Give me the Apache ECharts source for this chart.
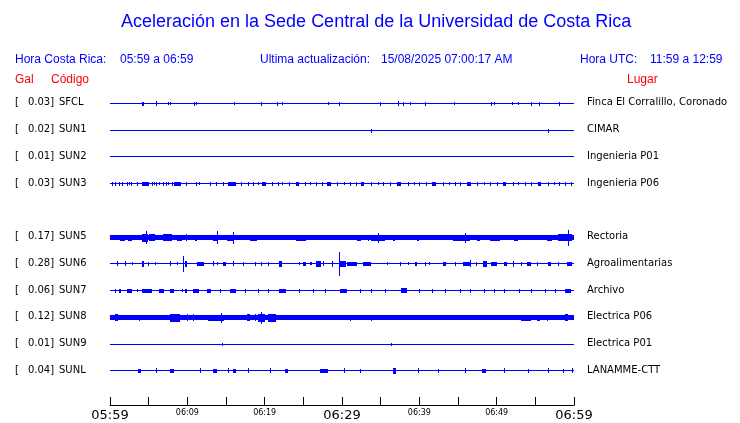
<!DOCTYPE html>
<html><head><meta charset="utf-8">
<script src="https://cdn.jsdelivr.net/npm/echarts@6/dist/echarts.min.js"></script>
<style>html,body{margin:0;padding:0;background:#fff}#c{width:740px;height:423px}</style>
</head><body><div id="c"></div>
<script>
// ---- data ----
const codes  = ['SFCL','SUN1','SUN2','SUN3','SUN5','SUN6','SUN7','SUN8','SUN9','SUNL'];
const gal    = ['0.03','0.02','0.01','0.03','0.17','0.28','0.06','0.12','0.01','0.04'];
const places = ['Finca El Corralillo, Coronado','CIMAR','Ingenieria P01','Ingenieria P06','Rectoria','Agroalimentarias','Archivo','Electrica P06','Electrica P01','LANAMME-CTT'];
const slots  = [1,2,3,4,6,7,8,9,10,11];           // row of each station (row 5 empty)
const noise  = [0,0,0,0,2,0,0,2,0,0];              // continuous background level
const tickMinutes = [0,5,10,15,20,25,30,35,40,45,50,55,60];
const startTime = [5,59];
// bursts: [start minute, end minute, half amplitude]
const sfcl = [[4.2,4.4,1.5],[5.9,6.1,2],[7.5,7.5,1],[7.7,7.7,1],[10.8,10.9,1.5],[11.1,11.1,1],[16.0,16.0,1],[19.5,19.7,1.5],[21.6,21.6,1.5],[22.2,22.2,1],[28.2,28.2,1],[29.6,29.6,1.5],[34.9,35.1,1.5],[37.2,37.3,2],[37.9,37.9,1.5],[38.8,38.8,1],[40.7,40.7,1.5],[44.5,44.5,1],[49.3,49.3,1.5],[49.7,49.7,1],[52.0,52.0,1],[52.8,52.8,1],[54.5,54.5,1.5],[55.5,55.5,1.5],[58.1,58.1,1.5]];
const sun1 = [[33.8,33.8,1.5],[56.7,56.8,1.5]];
const sun2 = [];
const sun3 = [[0.2,0.2,1.5],[0.6,0.6,1.5],[1.1,1.1,1.5],[1.6,1.6,1.5],[2.2,2.2,1.5],[2.4,2.4,1],[2.7,2.7,1.5],[3.5,3.5,1.5],[4.2,5.0,1.5],[5.4,5.4,1.5],[5.7,5.7,1],[6.0,6.0,1.5],[6.3,6.3,1],[6.8,6.8,1.5],[7.2,7.2,1.5],[7.5,7.5,1],[8.0,8.0,1.5],[8.3,9.2,1.5],[9.8,9.8,1.5],[11.1,11.1,1.5],[11.5,11.5,1],[12.9,12.9,1.5],[13.7,13.9,1.5],[14.6,14.6,1.5],[15.3,16.3,1.5],[17.0,17.0,1.5],[17.8,17.8,1.5],[18.5,18.5,1.5],[19.1,19.1,1],[19.6,20.2,1.5],[20.9,20.9,1.5],[21.7,21.7,1.5],[22.3,22.3,1],[23.2,23.2,1.5],[24.0,24.4,1.5],[25.2,25.2,1.5],[25.9,25.9,1],[26.6,26.6,1.5],[27.4,27.4,1.5],[28.1,28.6,1.5],[29.4,29.4,1.5],[30.3,30.3,1],[31.0,31.0,1.5],[31.8,31.8,1.5],[32.5,32.9,1.5],[33.7,33.7,1.5],[34.6,34.6,1],[35.3,35.3,1.5],[36.2,36.2,1.5],[37.1,37.6,1.5],[38.5,38.5,1.5],[39.3,39.3,1],[40.0,40.0,1.5],[40.8,40.8,1.5],[41.6,42.1,1.5],[43.0,43.0,1.5],[43.8,43.8,1],[44.6,44.6,1.5],[45.3,45.3,1.5],[46.2,46.7,1.5],[47.5,47.5,1.5],[48.3,48.3,1],[49.1,49.1,1.5],[50.0,50.0,1.5],[50.8,51.2,1.5],[52.1,52.1,1.5],[52.8,52.8,1],[53.6,53.6,1.5],[54.4,54.4,1.5],[55.3,55.7,1.5],[56.6,56.6,1.5],[57.4,57.4,1],[58.1,58.1,1.5],[58.9,58.9,1.5],[59.6,59.6,1.5]];
const sun5 = [[1.3,1.9,2.5],[2.3,2.8,2.5],[4.1,4.9,3.5],[4.6,4.6,6],[5.1,5.8,3],[6.8,8.0,3],[8.6,9.3,2.5],[9.8,10.0,3],[11.0,11.3,2.5],[13.3,13.9,2.5],[13.8,13.8,6],[15.1,15.9,2.5],[15.9,15.9,5.5],[18.1,19.0,2.5],[21.5,23.5,2],[24.1,25.4,2.5],[30.6,31.0,2],[31.9,32.5,2.5],[33.3,33.3,2.5],[33.8,35.5,2.5],[34.7,34.7,4.5],[36.6,36.8,2.5],[39.7,40.0,2.5],[41.3,43.5,2],[44.3,46.5,2.5],[45.9,45.9,4.5],[47.4,47.8,2.5],[49.1,50.4,2.5],[52.3,52.7,2.5],[55.2,55.6,2],[56.5,57.2,2.5],[57.9,59.8,3],[59.2,59.2,7.5]];
const sun6 = [[0.9,0.9,2],[2.0,2.1,2],[2.9,2.9,1],[4.2,4.4,2.5],[4.9,5.0,1.5],[5.8,5.8,1],[7.7,7.7,2],[8.6,8.6,1],[9.4,9.4,7.5],[9.7,9.9,2.5],[11.2,12.1,1.5],[13.3,13.3,2],[13.8,13.9,1],[14.6,15.0,1.5],[15.9,15.9,2],[17.2,17.2,1.5],[18.7,18.7,1.5],[19.5,19.5,1.5],[20.4,20.4,1.5],[21.9,22.2,2.5],[24.5,24.5,1],[24.9,25.3,1.5],[25.8,26.1,1],[26.7,27.3,2.5],[27.5,27.5,2],[28.7,28.7,2.5],[29.6,29.6,11.5],[29.8,30.5,2.5],[30.6,32.0,1.5],[32.7,33.8,1.5],[35.8,35.8,1],[37.5,37.5,1.5],[38.5,38.5,1],[39.4,39.7,1.5],[40.7,40.7,1.5],[41.3,41.3,1],[43.0,43.4,1.5],[44.6,44.7,1.5],[45.6,46.7,1.5],[46.5,46.5,3],[47.3,47.4,1.5],[48.2,48.7,2.5],[49.3,50.0,1.5],[51.0,51.3,1.5],[52.1,52.2,2.5],[53.2,53.3,1.5],[53.9,54.5,1.5],[55.2,55.2,1.5],[56.6,57.0,1.5],[57.9,58.0,1.5],[59.1,59.8,1.5]];
const sun7 = [[0.6,0.6,1.5],[1.1,1.4,1.5],[2.2,2.8,1.5],[3.5,3.5,1],[4.2,5.4,1.5],[6.4,7.0,1.5],[7.7,8.3,1.5],[9.3,9.3,1],[9.7,9.9,1.5],[10.7,11.5,1.5],[12.5,13.0,1.5],[14.2,14.2,1.5],[15.5,16.3,1.5],[17.4,17.4,1.5],[19.1,19.1,1.5],[20.4,20.4,1.5],[21.9,22.8,1.5],[24.5,24.5,1.5],[26.2,26.2,1.5],[27.8,27.8,1.5],[29.7,30.6,1.5],[32.3,32.3,1.5],[33.8,33.8,1.5],[35.5,35.5,1.5],[37.6,38.4,2],[40.0,40.0,1.5],[41.7,41.7,1.5],[43.3,43.3,1.5],[45.2,45.2,1.5],[46.5,46.5,1.5],[48.4,48.4,1.5],[49.7,49.7,1.5],[51.0,51.0,1.5],[52.9,52.9,1.5],[54.5,54.5,1.5],[56.2,56.2,1.5],[57.5,57.5,1.5],[58.9,59.6,1.5]];
const sun8 = [[0.6,1.0,3],[3.8,3.8,2.5],[7.7,9.0,3.5],[9.9,9.9,3],[10.7,10.7,3],[12.7,14.8,2.5],[14.4,14.4,4.5],[17.7,18.1,3],[18.7,18.7,3],[19.2,20.0,3.5],[19.5,19.5,5.5],[20.4,21.5,3.5],[31.0,31.0,2.5],[33.8,33.8,2.5],[53.2,54.5,2.5],[55.2,55.6,2.5],[56.5,56.5,2.5],[58.8,59.2,3]];
const sun9 = [[14.5,14.5,1],[36.4,36.4,1]];
const sunl = [[3.6,4.0,1.5],[6.0,6.0,2],[7.8,8.3,1.5],[11.6,11.6,2],[13.3,13.8,1.5],[15.2,15.2,2],[15.9,16.3,1.5],[17.8,17.8,2],[20.7,20.7,2],[22.6,23.0,1.5],[27.2,28.2,1.5],[30.3,30.3,2],[32.3,32.3,1.5],[36.6,37.0,2.5],[39.8,39.8,2],[42.4,42.4,1.5],[45.9,45.9,2],[48.1,48.6,1.5],[51.0,51.0,2],[54.0,54.0,1.5],[56.6,56.6,2],[58.6,58.6,1.5],[59.7,59.7,2]];
const bursts = [sfcl,sun1,sun2,sun3,sun5,sun6,sun7,sun8,sun9,sunl];

// ---- layout ----
const ROW = 27;
const BLUE = '#0000ff', RED = '#ff0000';
function fmtTime(m){
  let t = startTime[0]*60 + startTime[1] + m;
  const h = Math.floor(t/60), mm = t%60;
  return String(h).padStart(2,'0') + ':' + String(mm).padStart(2,'0');
}
function stationAt(v){
  const k = Math.round(v/ROW);
  return slots.indexOf(k);
}
function renderItem(params, api){
  const c = api.value(3), a = api.value(2);
  const p0 = api.coord([api.value(0), c]);
  const p1 = api.coord([api.value(1), c]);
  const x = Math.round(p0[0]);
  const w = Math.max(1, Math.round(p1[0]) - x);
  const cy = Math.round(p0[1]);
  const top = Math.round(cy - a), bot = Math.round(cy + a) + 1;
  return {type:'rect', shape:{x:x, y:top, width:w, height:bot-top}, style:{fill:BLUE}};
}
const series = codes.map((code,i)=>{
  const c = slots[i]*ROW;
  const data = [[0,60,noise[i],c]].concat(bursts[i].map(b=>[b[0],b[1],b[2],c]));
  return {type:'custom', name:code, renderItem:renderItem, data:data, silent:true, animation:false, clip:false,
    encode:{x:[0,1], y:3}};
});

const chart = echarts.init(document.getElementById('c'), null, {renderer:'canvas'});
const txt = (x,y,t,color,size,family)=>({type:'text', x:x, y:y, silent:true,
  style:{text:t, fill:color, font:(size||12)+'px '+(family||'"Liberation Sans", Arial, sans-serif'), verticalAlign:'middle', align:'left'}});
chart.setOption({
  animation:false,
  backgroundColor:'#fff',
  grid:{left:110, right:166, top:76, height:332},
  xAxis:{type:'value', min:0, max:60, interval:5, position:'bottom',
    axisLine:{show:true, onZero:false, lineStyle:{color:'#000', width:1}},
    axisTick:{show:true, inside:true, length:8, lineStyle:{color:'#000'}},
    splitLine:{show:false},
    axisLabel:{margin:4, showMinLabel:true, showMaxLabel:true, color:'#000',
      formatter:function(v){
        if (v%10!==0) return '';
        const t = fmtTime(v);
        return (v%30===0) ? '{b|'+t+'}' : '{s|'+t+'}';
      },
      rich:{
        b:{fontSize:13, fontFamily:'DejaVu Sans', color:'#000', lineHeight:14, verticalAlign:'top'},
        s:{fontSize:8, fontFamily:'DejaVu Sans', color:'#000', lineHeight:14, verticalAlign:'top', padding:[0,0,6,0]}
      }}
  },
  yAxis:[
    {type:'value', min:0, max:332, interval:ROW, inverse:true, position:'left',
      axisLine:{show:false}, axisTick:{show:false}, splitLine:{show:false},
      axisLabel:{align:'left', margin:95, color:'#000', fontFamily:'DejaVu Sans', fontSize:10,
        formatter:function(v){ const i = stationAt(v); if (i<0) return '';
          return '{a|[}{v|'+gal[i]+']}{c|'+codes[i]+'}'; },
        rich:{a:{width:12, fontFamily:'DejaVu Sans', fontSize:10, color:'#000'},
              v:{width:28, align:'right', fontFamily:'DejaVu Sans', fontSize:10, color:'#000'},
              c:{padding:[0,0,0,4], fontFamily:'DejaVu Sans', fontSize:10, color:'#000'}}}},
    {type:'value', min:0, max:332, interval:ROW, inverse:true, position:'right',
      axisLine:{show:false}, axisTick:{show:false}, splitLine:{show:false},
      axisLabel:{align:'left', margin:13, color:'#000', fontFamily:'DejaVu Sans', fontSize:10,
        formatter:function(v){ const i = stationAt(v); return i<0 ? '' : places[i]; }}}
  ],
  graphic:[
    txt(121,22,'Aceleración en la Sede Central de la Universidad de Costa Rica',BLUE,18),
    txt(15,60,'Hora Costa Rica:',BLUE,12),
    txt(120,60,fmtTime(0)+' a '+fmtTime(60),BLUE,12),
    txt(260,60,'Ultima actualización:',BLUE,12),
    txt(381,60,'15/08/2025 07:00:17 AM',BLUE,12),
    txt(580,60,'Hora UTC:',BLUE,12),
    txt(650,60,'11:59 a 12:59',BLUE,12),
    txt(15,80,'Gal',RED,12),
    txt(51,80,'Código',RED,12),
    txt(627,80,'Lugar',RED,12)
  ],
  series:series
});
</script></body></html>
